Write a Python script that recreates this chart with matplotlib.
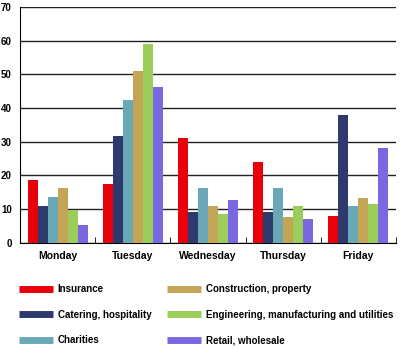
import matplotlib.pyplot as plt
import numpy as np
from matplotlib.lines import Line2D

plt.rcParams['font.family'] = ['Liberation Sans', 'DejaVu Sans']

days = ['Monday', 'Tuesday', 'Wednesday', 'Thursday', 'Friday']
sectors = ['Insurance', 'Catering, hospitality', 'Charities',
           'Construction, property', 'Engineering, manufacturing and utilities',
           'Retail, wholesale']
colors = ['#e8000b', '#2e3a6e', '#6aa8b8', '#c4a455', '#9acd5a', '#7b68e0']

insurance = [18.7, 17.5, 31.0, 24.1, 8.0]
catering = [11.0, 31.8, 9.2, 9.2, 38.0]
charities = [13.6, 42.4, 16.4, 16.4, 10.9]
construction = [16.4, 51.0, 10.9, 7.7, 13.3]
engineering = [9.8, 59.0, 8.5, 10.9, 11.6]
retail = [5.3, 46.2, 12.7, 7.1, 28.1]
series = [insurance, catering, charities, construction, engineering, retail]

fig = plt.figure(figsize=(4, 3.49), dpi=100)
ax = fig.add_axes([0.05, 0.304, 0.94, 0.676])

x = np.arange(len(days))
w = 0.133
for i, vals in enumerate(series):
    ax.bar(x - 2.5 * w + i * w, vals, width=w, color=colors[i], zorder=3)

ax.set_xlim(-0.5, 4.5)
ax.set_ylim(0, 70)
ax.set_yticks(range(0, 71, 10))
ax.yaxis.grid(True, color='#222222', linewidth=1.0, zorder=0)
ax.set_xticks(x)
ax.set_xticklabels(days, fontsize=7.5, fontweight='bold')
ax.set_xticks(np.arange(0.5, 4.6, 1), minor=True)
ax.tick_params(axis='x', which='major', length=0, pad=6)
ax.tick_params(axis='x', which='minor', length=4, direction='in', color='black')
ax.tick_params(axis='y', length=0, labelsize=7, pad=6)
for lab in ax.get_yticklabels():
    lab.set_fontweight('bold')
ax.spines['top'].set_visible(False)
ax.spines['right'].set_visible(False)
ax.spines['left'].set_color('black')
ax.spines['bottom'].set_color('black')

handles = [Line2D([0], [0], color=c, lw=5, solid_capstyle='butt') for c in colors]
fig.legend(handles, sectors, ncol=2, frameon=False,
           loc='upper left', bbox_to_anchor=(0.03, 0.205),
           prop={'size': 7.0, 'weight': 'bold'},
           handlelength=3.5, handletextpad=0.5, columnspacing=1.65,
           labelspacing=1.6, borderpad=0.2)

fig.savefig('out.png', dpi=100)
